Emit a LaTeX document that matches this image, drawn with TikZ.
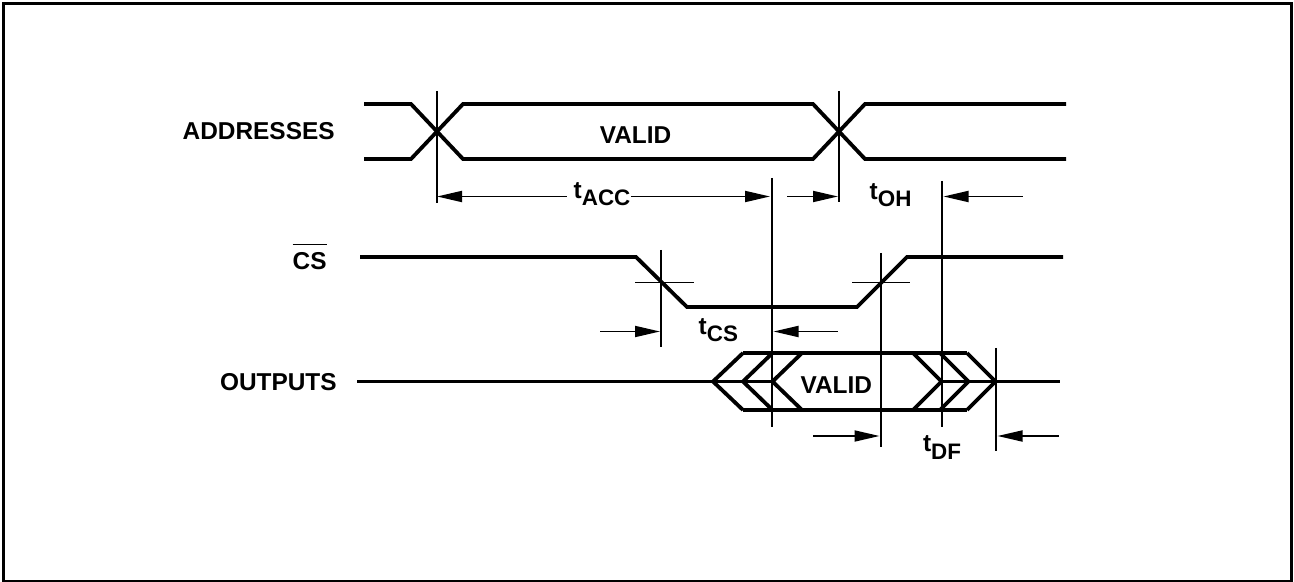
\documentclass[tikz,border=0pt]{standalone}
\usepackage{fontspec}
\setmainfont{Liberation Sans}
\usetikzlibrary{arrows.meta,positioning}

% t with a lowered subscript, as in the timing names
\newcommand{\tname}[1]{t\raisebox{-3.8pt}{\fontsize{11.2}{13}\selectfont #1}}
% text with a bar above it (active low)
\newcommand{\lowbar}[1]{\setbox0\hbox{#1}\rlap{\rule[12.4pt]{\wd0}{0.8pt}}\box0}

\begin{document}
\begin{tikzpicture}
        [x=0.5pt, y=-0.5pt,
         wave/.style={line width=1.9pt, line join=miter},
         guide/.style={line width=0.9pt},
         dimto/.style={->, >={Triangle[length=12.5pt,width=5.5pt]}, line width=0.9pt},
         dimfrom/.style={<-, >={Triangle[length=12.5pt,width=5.5pt]}, line width=0.9pt},
         sig/.style={font=\fontsize{12.2}{14}\selectfont\bfseries, inner sep=0pt},
         tlabel/.style={sig, anchor=base west}]

        \useasboundingbox (0,0) rectangle (1294,582);
        \draw[line width=1.75pt] (3.5,3.5) rectangle (1291.5,581.5);

        % signal names
        \node[sig, anchor=base east] (addr) at (335,139.3) {ADDRESSES};
        \node[sig, anchor=base east] (cs) at (327,270) {\lowbar{CS}};
        \node[sig, anchor=base east] (outs) at (337,390) {OUTPUTS};

        % addresses
        \draw[wave] (364,104) -- (411,104) -- (463,159) -- (813,159) -- (865,104) -- (1066,104);
        \draw[wave] (364,159) -- (411,159) -- (463,104) -- (813,104) -- (865,159) -- (1066,159);
        \node[sig, anchor=base] (avalid) at (635.5,144) {VALID};

        % chip select
        \draw[wave] (360,257) -- (636,257) -- (687,307) -- (857,307) -- (907,257) -- (1063,257);
        \draw[guide] (635,282.5) -- (694,282.5);
        \draw[guide] (852,282.5) -- (910,282.5);

        % outputs
        \draw[wave] (357,381.5) -- (772.5,381.5);
        \draw[wave] (743,353) -- (713,381.5) -- (743,410);
        \draw[wave] (772.5,353) -- (743,381.5) -- (772.5,410);
        \draw[wave] (802,353) -- (772.5,381.5) -- (802,410);
        \draw[wave] (743,353) -- (967,353);
        \draw[wave] (743,410) -- (967,410);
        \draw[wave] (913,353) -- (941.5,381.5) -- (913,410);
        \draw[wave] (940,353) -- (968.5,381.5) -- (940,410);
        \draw[wave] (967,353) -- (995.5,381.5) -- (967,410);
        \draw[wave] (941.5,381.5) -- (1060,381.5);
        \node[sig, anchor=base] (ovalid) at (836.3,393.3) {VALID};

        % reference lines
        \draw[guide] (437,91) -- (437,203);
        \draw[guide] (839,91) -- (839,202);
        \draw[guide] (772,178) -- (772,427);
        \draw[guide] (942,181) -- (942,427);
        \draw[guide] (661,250) -- (661,347);
        \draw[guide] (881,253) -- (881,447);
        \draw[guide] (996,348) -- (996,451);

        % timing names
        \node[tlabel] (tacc) at (573.3,198.3) {\tname{ACC}};
        \node[tlabel] (toh) at (869.3,199.3) {\tname{OH}};
        \node[tlabel] (tcs) at (698.3,334.3) {\tname{CS}};
        \node[tlabel] (tdf) at (922.7,451.7) {\tname{DF}};

        \coordinate (accA) at (437,196.5);
        \coordinate (accB) at (770,196.5);
        \coordinate (ohA) at (787,196.5);
        \coordinate (ohB) at (838,196.5);
        \coordinate (ohC) at (943.5,196.5);
        \coordinate (ohD) at (1023,196.5);
        \coordinate (csA) at (600,331.5);
        \coordinate (csB) at (660,331.5);
        \coordinate (csC) at (773.5,331.5);
        \coordinate (csD) at (838,331.5);
        \coordinate (dfA) at (813,436);
        \coordinate (dfB) at (879.5,436);
        \coordinate (dfC) at (997.5,436);
        \coordinate (dfD) at (1059,436);

        \draw[dimfrom] (accA) -- ([xshift=-3.3pt]tacc.west |- accA);
        \draw[dimto] (tacc.east |- accA) -- (accB);
        \draw[dimto] (ohA) -- (ohB);
        \draw[dimfrom] (ohC) -- (ohD);
        \draw[dimto] (csA) -- (csB);
        \draw[dimfrom] (csC) -- (csD);
        \draw[dimto] (dfA) -- (dfB);
        \draw[dimfrom] (dfC) -- (dfD);
\end{tikzpicture}
\end{document}
